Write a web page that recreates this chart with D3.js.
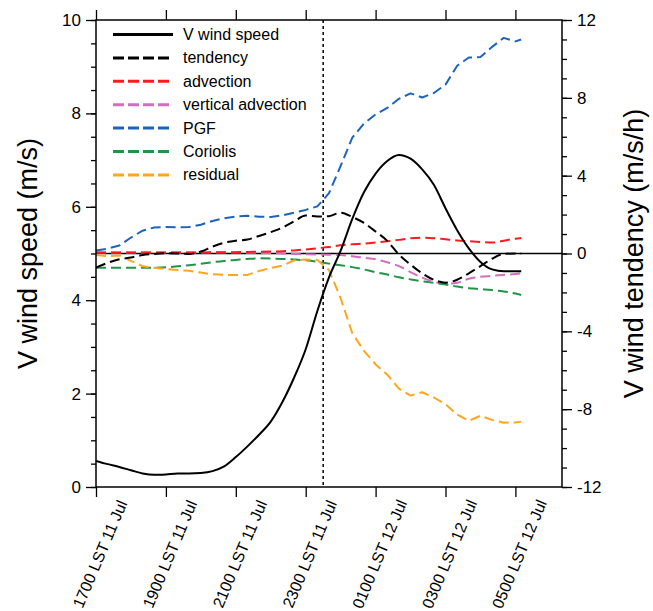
<!DOCTYPE html>
<html>
<head>
<meta charset="utf-8">
<script src="https://cdn.jsdelivr.net/npm/d3@7"></script>
<style>
body { margin: 0; background: #fff; }
svg { font-family: "Liberation Sans", Arial, Helvetica, sans-serif; }
</style>
</head>
<body>
<div id="chart"></div>
<script>
// time axis: minutes after 1700 LST 11 Jul
var minutes = d3.range(0, 721, 20).concat([730]);

// V wind speed (m/s), left axis
var speed = [0.56,0.49,0.43,0.36,0.29,0.26,0.27,0.29,0.29,0.30,0.34,0.44,0.64,0.87,1.12,1.40,1.82,2.34,2.95,3.77,
             4.49,5.06,5.74,6.31,6.71,6.98,7.11,7.03,6.80,6.47,5.97,5.50,5.11,4.82,4.66,4.62,4.62,4.62];

// tendency terms (m/s/h), right axis
var tendency = [-0.72,-0.48,-0.30,-0.20,-0.08,-0.02,0.01,0.00,-0.02,0.10,0.35,0.55,0.66,0.72,0.90,1.10,1.33,1.65,1.95,1.90,
                1.92,2.10,1.88,1.57,1.13,0.65,-0.05,-0.57,-1.02,-1.35,-1.50,-1.35,-1.02,-0.65,-0.27,-0.02,0.00,0.00];
var advection = [0.05,0.05,0.05,0.05,0.05,0.05,0.05,0.05,0.05,0.05,0.06,0.06,0.07,0.08,0.09,0.10,0.12,0.16,0.21,0.27,
                 0.33,0.42,0.47,0.51,0.56,0.63,0.70,0.78,0.81,0.79,0.73,0.67,0.63,0.59,0.56,0.66,0.76,0.80];
var vertAdvection = [0.05,0.05,0.05,0.05,0.05,0.05,0.05,0.05,0.05,0.05,0.05,0.05,0.05,0.04,0.03,0.02,0.00,-0.02,-0.04,-0.05,
                     -0.06,-0.08,-0.14,-0.22,-0.30,-0.45,-0.65,-0.96,-1.24,-1.45,-1.56,-1.50,-1.30,-1.20,-1.15,-1.10,-1.05,-1.02];
var pgf = [0.15,0.25,0.41,0.82,1.17,1.34,1.36,1.35,1.36,1.48,1.67,1.81,1.90,1.94,1.89,1.88,1.96,2.10,2.24,2.42,
           3.10,4.50,5.95,6.68,7.15,7.48,7.95,8.23,8.02,8.25,8.68,9.65,10.07,10.10,10.62,11.08,10.90,11.00];
var coriolis = [-0.73,-0.73,-0.73,-0.73,-0.73,-0.73,-0.71,-0.66,-0.60,-0.53,-0.45,-0.38,-0.33,-0.28,-0.25,-0.26,-0.28,-0.31,-0.35,-0.42,
                -0.52,-0.60,-0.70,-0.82,-0.96,-1.08,-1.22,-1.33,-1.43,-1.51,-1.59,-1.70,-1.78,-1.83,-1.88,-1.95,-2.06,-2.13];
var residual = [-0.08,-0.14,-0.10,-0.38,-0.65,-0.73,-0.80,-0.85,-0.89,-0.98,-1.07,-1.10,-1.10,-1.10,-0.90,-0.74,-0.62,-0.36,-0.31,-0.33,
                -0.85,-2.30,-4.10,-5.00,-5.70,-6.22,-6.95,-7.30,-7.13,-7.40,-7.75,-8.28,-8.60,-8.34,-8.55,-8.70,-8.68,-8.64];

var timeTicks = [0, 120, 240, 360, 480, 600, 720];
var timeLabels = ["1700 LST 11 Jul", "1900 LST 11 Jul", "2100 LST 11 Jul", "2300 LST 11 Jul",
                  "0100 LST 12 Jul", "0300 LST 12 Jul", "0500 LST 12 Jul"];
var speedTicks = [0, 2, 4, 6, 8, 10];
var tendTicks = [-12, -8, -4, 0, 4, 8, 12];
var markerTime = 390;   // 2330 LST

var width = 653, height = 611;
var margin = {top: 20, right: 91, bottom: 124, left: 96};

var svg = d3.select("#chart").append("svg")
    .attr("width", width)
    .attr("height", height);

var x = d3.scaleLinear().domain([0, 800]).range([margin.left, width - margin.right]);
var ySpeed = d3.scaleLinear().domain([0, 10]).range([height - margin.bottom, margin.top]);
var yTend = d3.scaleLinear().domain([-12, 12]).range([height - margin.bottom, margin.top]);

var series = [
    {name: "V wind speed", values: speed, color: "#000000", dash: null, scale: ySpeed, curve: d3.curveMonotoneX},
    {name: "tendency", values: tendency, color: "#000000", dash: "10,5", scale: yTend, curve: d3.curveMonotoneX},
    {name: "advection", values: advection, color: "#ff1a1a", dash: "10,5", scale: yTend, curve: d3.curveMonotoneX},
    {name: "vertical advection", values: vertAdvection, color: "#d46cc2", dash: "10,5", scale: yTend, curve: d3.curveMonotoneX},
    {name: "PGF", values: pgf, color: "#1c64bb", dash: "10,5", scale: yTend, curve: d3.curveLinear},
    {name: "Coriolis", values: coriolis, color: "#1e9646", dash: "10,5", scale: yTend, curve: d3.curveMonotoneX},
    {name: "residual", values: residual, color: "#ffa51e", dash: "10,5", scale: yTend, curve: d3.curveLinear}
];

svg.append("clipPath").attr("id", "plotclip")
    .append("rect")
    .attr("x", margin.left).attr("y", margin.top)
    .attr("width", width - margin.left - margin.right)
    .attr("height", height - margin.top - margin.bottom);

var plot = svg.append("g").attr("clip-path", "url(#plotclip)");

// zero tendency line
plot.append("line")
    .attr("x1", margin.left).attr("x2", width - margin.right)
    .attr("y1", yTend(0)).attr("y2", yTend(0))
    .attr("stroke", "#000").attr("stroke-width", 1.6);

// 2330 LST marker
plot.append("line")
    .attr("x1", x(markerTime)).attr("x2", x(markerTime))
    .attr("y1", margin.top).attr("y2", height - margin.bottom)
    .attr("stroke", "#000").attr("stroke-width", 1.5)
    .attr("stroke-dasharray", "3,3");

var drawOrder = [3, 2, 5, 4, 6, 1, 0];
drawOrder.forEach(function(i) {
    var s = series[i];
    var line = d3.line()
        .x(function(d, j) { return x(minutes[j]); })
        .y(function(d) { return s.scale(d); })
        .curve(s.curve);
    plot.append("path")
        .datum(s.values)
        .attr("d", line)
        .attr("fill", "none")
        .attr("stroke", s.color)
        .attr("stroke-width", 2)
        .attr("stroke-linejoin", "round")
        .attr("stroke-dasharray", s.dash);
});

// axes
function styleAxis(g) {
    g.select(".domain").remove();
    g.selectAll(".tick line").attr("stroke", "#000").attr("stroke-width", 1.3);
    g.selectAll(".tick text").attr("font-size", 17).attr("fill", "#000")
        .attr("font-family", "Liberation Sans, Arial, sans-serif");
}

svg.append("g").attr("transform", "translate(" + margin.left + ",0)")
    .call(d3.axisLeft(ySpeed).tickValues(d3.range(0, 10.01, 0.5)).tickSize(5).tickFormat(""))
    .call(styleAxis);
svg.append("g").attr("transform", "translate(" + margin.left + ",0)")
    .call(d3.axisLeft(ySpeed).tickValues(speedTicks).tickSize(10).tickPadding(5).tickFormat(String))
    .call(styleAxis);

svg.append("g").attr("transform", "translate(" + (width - margin.right) + ",0)")
    .call(d3.axisRight(yTend).tickValues(d3.range(-12, 12.01, 1)).tickSize(5).tickFormat(""))
    .call(styleAxis);
svg.append("g").attr("transform", "translate(" + (width - margin.right) + ",0)")
    .call(d3.axisRight(yTend).tickValues(tendTicks).tickSize(10).tickPadding(5).tickFormat(String))
    .call(styleAxis);

svg.append("g").attr("transform", "translate(0," + (height - margin.bottom) + ")")
    .call(d3.axisBottom(x).tickValues(timeTicks).tickSize(10).tickFormat(""))
    .call(styleAxis);
svg.append("g").attr("transform", "translate(0," + margin.top + ")")
    .call(d3.axisTop(x).tickValues(timeTicks).tickSize(10).tickFormat(""))
    .call(styleAxis);

// rotated time labels
svg.append("g").selectAll("text")
    .data(timeTicks)
    .join("text")
    .attr("transform", function(d) { return "translate(" + (x(d) + 4) + ",554) rotate(-67)"; })
    .attr("text-anchor", "middle")
    .attr("dominant-baseline", "central")
    .attr("font-size", 16)
    .text(function(d, i) { return timeLabels[i]; });

// frame
svg.append("rect")
    .attr("x", margin.left).attr("y", margin.top)
    .attr("width", width - margin.left - margin.right)
    .attr("height", height - margin.top - margin.bottom)
    .attr("fill", "none").attr("stroke", "#000").attr("stroke-width", 1.5);

// axis titles
svg.append("text")
    .attr("transform", "translate(28," + yTend(0) + ") rotate(-90)")
    .attr("text-anchor", "middle").attr("dominant-baseline", "central")
    .attr("font-size", 27)
    .text("V wind speed (m/s)");
svg.append("text")
    .attr("transform", "translate(634," + yTend(0) + ") rotate(-90)")
    .attr("text-anchor", "middle").attr("dominant-baseline", "central")
    .attr("font-size", 27)
    .text("V wind tendency (m/s/h)");

// legend
var legend = svg.append("g");
series.forEach(function(s, i) {
    var ly = 34.5 + i * 23.4;
    legend.append("line")
        .attr("x1", 113).attr("x2", 173)
        .attr("y1", ly).attr("y2", ly)
        .attr("stroke", s.color).attr("stroke-width", 3)
        .attr("stroke-dasharray", s.dash ? "11,4" : null);
    legend.append("text")
        .attr("x", 183).attr("y", ly)
        .attr("dominant-baseline", "central")
        .attr("font-size", 16)
        .text(s.name);
});
</script>
</body>
</html>
